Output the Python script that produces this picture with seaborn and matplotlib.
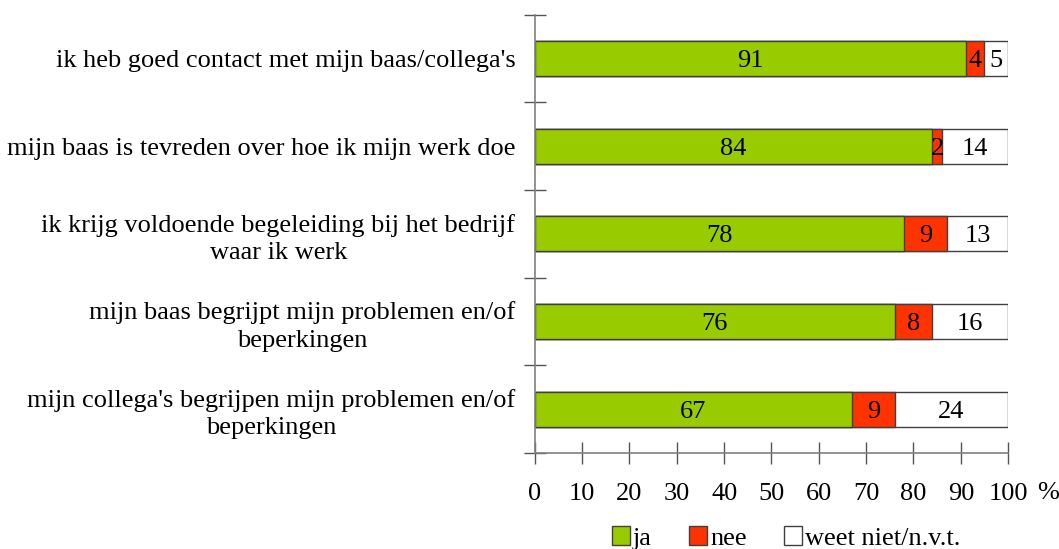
import numpy as np
import pandas as pd
import matplotlib
matplotlib.use('Agg')
import matplotlib.pyplot as plt
from matplotlib.patches import Patch
import seaborn as sns

# data (percentages)
stellingen = ["ik heb goed contact met mijn baas/collega's",
              "mijn baas is tevreden over hoe ik mijn werk doe",
              "ik krijg voldoende begeleiding bij het bedrijf\nwaar ik werk",
              "mijn baas begrijpt mijn problemen en/of\nbeperkingen",
              "mijn collega's begrijpen mijn problemen en/of\nbeperkingen"]
ja = [91, 84, 78, 76, 67]
nee = [4, 2, 9, 8, 9]
weet_niet = [5, 14, 13, 16, 24]
reeksen = ['ja', 'nee', 'weet niet/n.v.t.']
kleuren = ['#99CC00', '#FF3300', '#FFFFFF']
xticks = [0, 10, 20, 30, 40, 50, 60, 70, 80, 90, 100]

sns.set_style('white')
plt.rcParams['font.family'] = ['Liberation Serif', 'DejaVu Serif']
plt.rcParams['text.color'] = 'black'
plt.rcParams['xtick.color'] = 'black'
plt.rcParams['ytick.color'] = 'black'

fs = 19

df = pd.DataFrame({'stelling': stellingen, 'ja': ja, 'nee': nee, 'weet': weet_niet})
df['tot_nee'] = df['ja'] + df['nee']
df['tot'] = df['tot_nee'] + df['weet']

fig = plt.figure(figsize=(10.59, 5.49), dpi=100)
ax = fig.add_axes([0.505, 0.175, 0.447, 0.798])

edge = '#404040'
# stacked: draw cumulative totals from back to front
sns.barplot(data=df, x='tot', y='stelling', color=kleuren[2], edgecolor=edge,
            linewidth=1, width=0.4, saturation=1, ax=ax)
sns.barplot(data=df, x='tot_nee', y='stelling', color=kleuren[1], edgecolor=edge,
            linewidth=1, width=0.4, saturation=1, ax=ax)
sns.barplot(data=df, x='ja', y='stelling', color=kleuren[0], edgecolor=edge,
            linewidth=1, width=0.4, saturation=1, ax=ax)

# value labels in the middle of each segment
for i, row in df.iterrows():
    ax.text(row['ja'] / 2, i, str(row['ja']), ha='center', va='center_baseline', fontsize=fs)
    ax.text(row['ja'] + row['nee'] / 2, i, str(row['nee']), ha='center', va='center_baseline', fontsize=fs)
    ax.text(row['tot_nee'] + row['weet'] / 2, i, str(row['weet']), ha='center', va='center_baseline', fontsize=fs)

ax.set_xlim(0, 100)
ax.set_ylim(len(stellingen) - 0.5, -0.5)
ax.set_xticks(xticks)
ax.set_xlabel('')
ax.set_ylabel('')

# y ticks on the category boundaries, labels in the middle
ax.set_yticks(np.arange(len(stellingen)))
ax.set_yticklabels(stellingen, multialignment='center', linespacing=1.3)
ax.set_yticks(np.arange(-0.5, len(stellingen)), minor=True)
ax.tick_params(axis='y', which='major', left=True, length=0, pad=14, labelsize=fs)
ax.tick_params(axis='y', which='minor', left=True, direction='inout', length=16, width=1, color='#555555')
ax.tick_params(axis='x', bottom=True, direction='inout', length=16, width=1, color='#555555',
               pad=14, labelsize=fs)

for s in ['top', 'right']:
    ax.spines[s].set_visible(False)
for s in ['left', 'bottom']:
    ax.spines[s].set_color('#808080')
    ax.spines[s].set_linewidth(1.2)

fig.text(1048 / 1059, 1 - 493 / 549, '%', ha='center', va='center', fontsize=fs)

handles = [Patch(facecolor=c, edgecolor=edge, linewidth=1) for c in kleuren]
fig.legend(handles, reeksen, loc='center', bbox_to_anchor=(786 / 1059, 1 - 538 / 549),
           ncol=3, frameon=False, fontsize=fs, handlelength=0.7, handleheight=0.7,
           handletextpad=0.1, columnspacing=1.4)

fig.savefig('out.png', dpi=100)
